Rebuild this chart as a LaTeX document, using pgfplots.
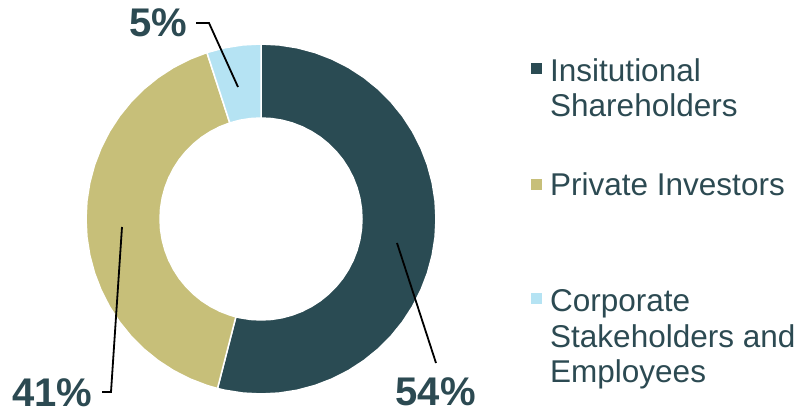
\documentclass[border=0pt]{standalone}
\usepackage{pgfplots}
\pgfplotsset{compat=1.18}
\usepackage{fontspec}
\setmainfont{Liberation Sans}
\definecolor{cDark}{HTML}{2A4B53}
\definecolor{cTan}{HTML}{C7BF79}
\definecolor{cBlue}{HTML}{B5E3F3}
\definecolor{cText}{HTML}{2C4A52}
% Shares: Insitutional Shareholders 54%, Private Investors 41%, Corporate Stakeholders and Employees 5%
% boundary angles (clockwise from top): 90 -> -104.4 (54%) -> -252 (41%) -> -270 (5%)
\begin{document}
\begin{tikzpicture}
\begin{axis}[
  width=799bp, height=411bp, scale only axis,
  xmin=-261, xmax=538, ymin=-192, ymax=219,
  hide axis, clip=false,
]
\path (rel axis cs:0,0) rectangle (rel axis cs:1,1);
% Dark: 54%
\addplot[fill=cDark, draw=white, line width=1.5bp, data cs=polar] coordinates {
(90,175)(84,175)(78,175)(72,175)(66,175)(60,175)(54,175)(48,175)(42,175)(36,175)(30,175)(24,175)(18,175)(12,175)(6,175)(0,175)
(-6,175)(-12,175)(-18,175)(-24,175)(-30,175)(-36,175)(-42,175)(-48,175)(-54,175)(-60,175)(-66,175)(-72,175)(-78,175)(-84,175)(-90,175)(-96,175)(-102,175)(-104.4,175)
(-104.4,101)(-102,101)(-96,101)(-90,101)(-84,101)(-78,101)(-72,101)(-66,101)(-60,101)(-54,101)(-48,101)(-42,101)(-36,101)(-30,101)(-24,101)(-18,101)(-12,101)(-6,101)
(0,101)(6,101)(12,101)(18,101)(24,101)(30,101)(36,101)(42,101)(48,101)(54,101)(60,101)(66,101)(72,101)(78,101)(84,101)(90,101)
} -- cycle;
% Tan: 41%
\addplot[fill=cTan, draw=white, line width=1.5bp, data cs=polar] coordinates {
(-104.4,175)(-108,175)(-114,175)(-120,175)(-126,175)(-132,175)(-138,175)(-144,175)(-150,175)(-156,175)(-162,175)(-168,175)(-174,175)
(-180,175)(-186,175)(-192,175)(-198,175)(-204,175)(-210,175)(-216,175)(-222,175)(-228,175)(-234,175)(-240,175)(-246,175)(-252,175)
(-252,101)(-246,101)(-240,101)(-234,101)(-228,101)(-222,101)(-216,101)(-210,101)(-204,101)(-198,101)(-192,101)(-186,101)(-180,101)
(-174,101)(-168,101)(-162,101)(-156,101)(-150,101)(-144,101)(-138,101)(-132,101)(-126,101)(-120,101)(-114,101)(-108,101)(-104.4,101)
} -- cycle;
% Blue: 5%
\addplot[fill=cBlue, draw=white, line width=1.5bp, data cs=polar] coordinates {
(108,175)(102,175)(96,175)(90,175)
(90,101)(96,101)(102,101)(108,101)
} -- cycle;
% leader lines
\draw[black, line width=1.8bp] (axis cs:-65,196) -- (axis cs:-52,196) -- (axis cs:-23,132);
\draw[black, line width=1.8bp] (axis cs:-159,-173) -- (axis cs:-150,-173) -- (axis cs:-139,-8);
\draw[black, line width=1.8bp] (axis cs:136,-24) -- (axis cs:175,-144);
% labels
\begin{scope}[every node/.style={anchor=base west, inner sep=0pt, text=cText, font=\fontsize{40bp}{42bp}\selectfont\bfseries}]
\node at (axis cs:-132,182) {5\%};
\node at (axis cs:-249,-188) {41\%};
\node at (axis cs:134.5,-187) {54\%};
\end{scope}
% legend
\fill[cDark] (axis cs:269.5,144.5) rectangle (axis cs:280.5,155.5);
\fill[cTan] (axis cs:269.5,28.5) rectangle (axis cs:280.5,39.5);
\fill[cBlue] (axis cs:269.5,-85.5) rectangle (axis cs:280.5,-74.5);
\begin{scope}[every node/.style={anchor=base west, inner sep=0pt, text=cText, font=\fontsize{31.5bp}{36bp}\selectfont}]
\node at (axis cs:289,137) {Insitutional};
\node at (axis cs:289,102) {Shareholders};
\node at (axis cs:289,23) {Private Investors};
\node at (axis cs:289,-93) {Corporate};
\node at (axis cs:289,-129) {Stakeholders and};
\node at (axis cs:289,-164) {Employees};
\end{scope}
\end{axis}
\end{tikzpicture}
\end{document}
